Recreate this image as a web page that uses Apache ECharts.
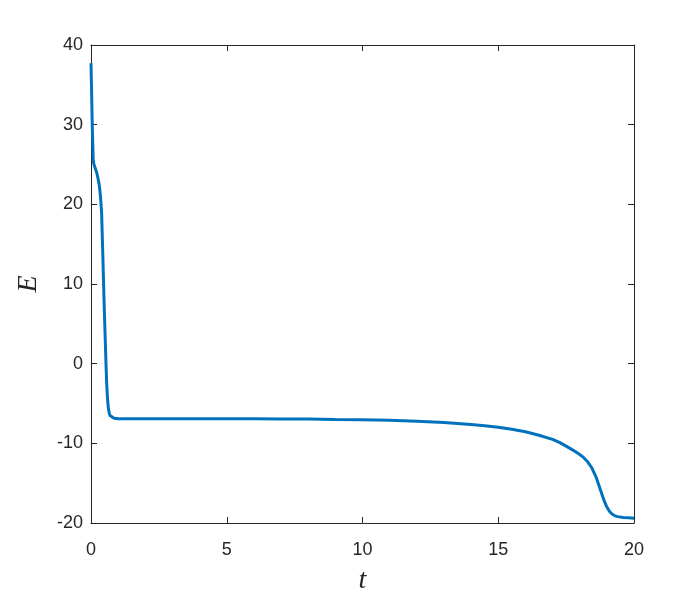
<!DOCTYPE html>
<html><head><meta charset="utf-8">
<script src="https://cdn.jsdelivr.net/npm/echarts@6/dist/echarts.min.js"></script>
<style>html,body{margin:0;padding:0;background:#fff}#c{width:700px;height:600px}</style>
</head><body><div id="c"></div>
<script>
const tValues = [0, 0.02, 0.04, 0.06, 0.08, 0.1, 0.15, 0.2, 0.25, 0.3, 0.33, 0.36, 0.39, 0.42, 0.45, 0.48, 0.52, 0.55, 0.58, 0.61, 0.64, 0.67, 0.7, 0.76, 0.85, 1.0, 1.5, 2, 3, 4, 5, 6, 7, 8, 9, 10, 11, 12, 13, 14, 14.5, 15, 15.5, 16, 16.5, 17, 17.25, 17.5, 17.75, 18, 18.15, 18.3, 18.45, 18.6, 18.7, 18.8, 18.9, 19.0, 19.1, 19.2, 19.3, 19.4, 19.6, 19.8, 20];
const eValues = [37.7, 34.5, 31.0, 28.0, 25.8, 25.1, 24.6, 24.1, 23.4, 22.5, 21.7, 20.5, 19.0, 15.5, 11.8, 8.0, 3.5, 0.2, -2.7, -4.5, -5.6, -6.2, -6.5, -6.75, -6.85, -6.9, -6.9, -6.9, -6.9, -6.9, -6.9, -6.92, -6.94, -6.96, -7.0, -7.03, -7.1, -7.22, -7.4, -7.65, -7.8, -7.98, -8.22, -8.55, -8.98, -9.5, -9.88, -10.35, -10.85, -11.4, -11.8, -12.35, -13.1, -14.2, -15.2, -16.2, -17.2, -18.0, -18.55, -18.9, -19.1, -19.2, -19.3, -19.35, -19.4];
const xTicks = [0, 5, 10, 15, 20];
const yTicks = [-20, -10, 0, 10, 20, 30, 40];

const data = tValues.map((t, i) => [t, eValues[i]]);
const axisColor = '#262626';
const labelFont = {color: axisColor, fontSize: 18, fontFamily: 'Liberation Sans, Arial, sans-serif'};
const chart = echarts.init(document.getElementById('c'), null, {renderer: 'canvas'});
const baseX = {
  type: 'value', min: xTicks[0], max: xTicks[xTicks.length - 1], interval: 5,
  axisLine: {show: true, onZero: false, lineStyle: {color: axisColor, width: 1}},
  axisTick: {show: true, inside: true, length: 6, lineStyle: {color: axisColor}},
  splitLine: {show: false}
};
const baseY = {
  type: 'value', min: yTicks[0], max: yTicks[yTicks.length - 1], interval: 10,
  axisLine: {show: true, onZero: false, lineStyle: {color: axisColor, width: 1}},
  axisTick: {show: true, inside: true, length: 6, lineStyle: {color: axisColor}},
  splitLine: {show: false}
};
chart.setOption({
  animation: false,
  grid: {left: 91, right: 66, top: 45, bottom: 70},
  xAxis: [
    Object.assign({}, baseX, {position: 'bottom', axisLabel: Object.assign({margin: 18}, labelFont),
      name: 't', nameLocation: 'middle', nameGap: 44,
      nameTextStyle: {fontSize: 28, fontStyle: 'italic', fontFamily: 'Liberation Serif, DejaVu Serif, serif', color: axisColor}}),
    Object.assign({}, baseX, {position: 'top', axisLabel: {show: false}})
  ],
  yAxis: [
    Object.assign({}, baseY, {position: 'left', axisLabel: Object.assign({margin: 8}, labelFont),
      name: 'E', nameLocation: 'middle', nameGap: 48, nameRotate: 90,
      nameTextStyle: {fontSize: 28, fontStyle: 'italic', fontFamily: 'Liberation Serif, DejaVu Serif, serif', color: axisColor}}),
    Object.assign({}, baseY, {position: 'right', axisLabel: {show: false}})
  ],
  series: [{
    type: 'line', data: data, xAxisIndex: 0, yAxisIndex: 0,
    showSymbol: false, smooth: false,
    lineStyle: {color: '#0072BD', width: 3}
  }]
});
</script></body></html>
